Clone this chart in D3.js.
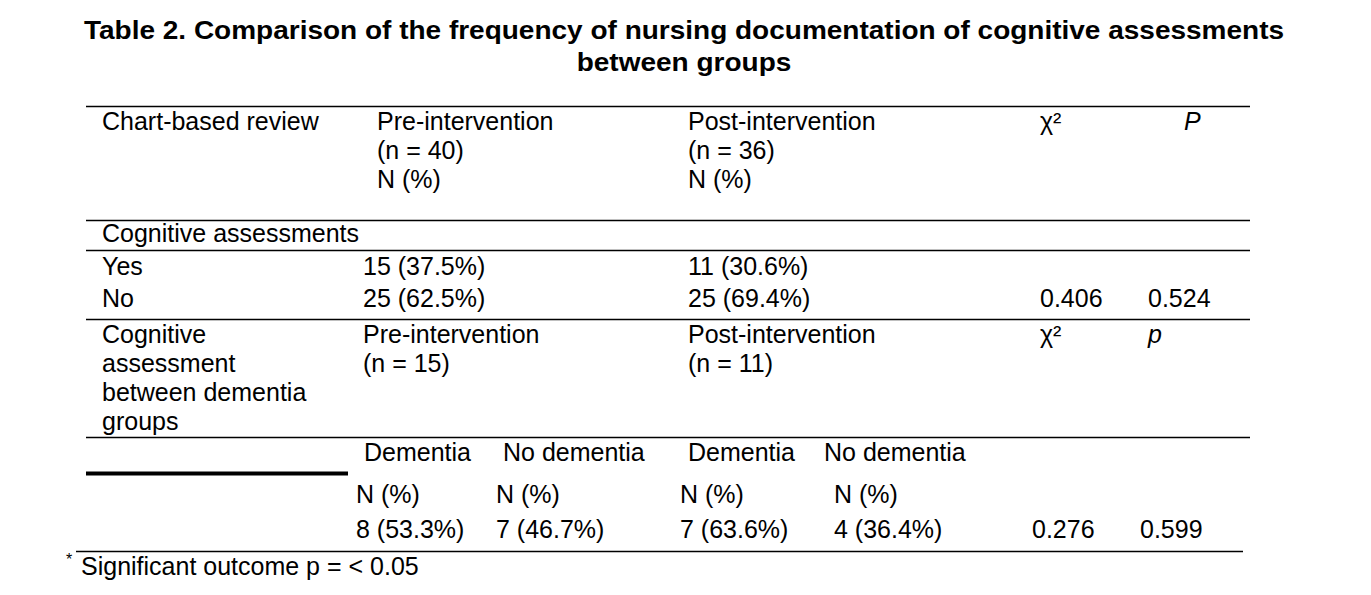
<html lang="en">
  <head>
    <meta charset="utf-8">
    <title>Table 2</title>
    <script src="https://d3js.org/d3.v7.min.js"></script>
    <style>
      body { margin: 0; background: #fff; }
      text { font-family: "Liberation Sans", Arial, sans-serif; font-size: 25px; fill: #000; }
      .title { font-weight: bold; font-size: 25px; }
      .rule { stroke: #000; stroke-width: 1.5; }
    </style>
  </head>
  <body>
    <script type="text/javascript">

    // table content
    var titleLines = ["Table 2. Comparison of the frequency of nursing documentation of cognitive assessments",
                      "between groups"];
    var groups = ["Pre-intervention", "Post-intervention"];
    var groupN = ["(n = 40)", "(n = 36)"];
    var answers = ["Yes", "No"];
    var preValues = ["15 (37.5%)", "25 (62.5%)"];
    var postValues = ["11 (30.6%)", "25 (69.4%)"];
    var chiSq1 = "0.406", pValue1 = "0.524";
    var subGroupN = ["(n = 15)", "(n = 11)"];
    var dementiaGroups = ["Dementia", "No dementia"];
    var preDementia = ["8 (53.3%)", "7 (46.7%)"];
    var postDementia = ["7 (63.6%)", "4 (36.4%)"];
    var chiSq2 = "0.276", pValue2 = "0.599";
    var footnote = "Significant outcome p = < 0.05";

    var w = 1371, h = 595;
    var step = 29;

    var svg = d3.select("body").append("svg")
      .attr("width", w)
      .attr("height", h);

    // title (reference type is a bit wider than the font, so stretch it)
    svg.append("g")
      .attr("transform", "translate(684,0) scale(1.12,1)")
      .selectAll("text.title")
      .data(titleLines)
      .enter()
      .append("text")
      .attr("class", "title")
      .attr("x", 0)
      .attr("y", function(d, i) { return 39 + i * 32; })
      .style("text-anchor", "middle")
      .text(function(d) { return d; });

    // horizontal rules
    var rules = [
      { y: 106.5, x1: 86, x2: 1250 },
      { y: 220.5, x1: 86, x2: 1250 },
      { y: 250.5, x1: 86, x2: 1250 },
      { y: 319.5, x1: 86, x2: 1250 },
      { y: 437.5, x1: 86, x2: 1250 },
      { y: 551.5, x1: 76, x2: 1243 }
    ];
    svg.selectAll("line.rule")
      .data(rules)
      .enter()
      .append("line")
      .attr("class", "rule")
      .attr("x1", function(d) { return d.x1; })
      .attr("x2", function(d) { return d.x2; })
      .attr("y1", function(d) { return d.y; })
      .attr("y2", function(d) { return d.y; });

    svg.append("line")
      .attr("x1", 86).attr("x2", 348)
      .attr("y1", 473.5).attr("y2", 473.5)
      .style("stroke", "#000")
      .style("stroke-width", 4);

    function put(x, y, s, italic) {
      var t = svg.append("text").attr("x", x).attr("y", y).text(s);
      if (italic) t.style("font-style", "italic");
      return t;
    }

    // header block
    put(102, 130, "Chart-based review");
    var colX = [377, 688];
    groups.forEach(function(g, i) {
      put(colX[i], 130, g);
      put(colX[i], 130 + step, groupN[i]);
      put(colX[i], 130 + 2 * step, "N (%)");
    });
    put(1040, 130, "χ²");
    put(1184, 130, "P", true);

    // cognitive assessments
    put(102, 242, "Cognitive assessments");
    var valX = [363, 688];
    answers.forEach(function(a, i) {
      var y = 275 + i * 32;
      put(102, y, a);
      put(valX[0], y, preValues[i]);
      put(valX[1], y, postValues[i]);
    });
    put(1040, 307, chiSq1);
    put(1148, 307, pValue1);

    // dementia block header
    ["Cognitive", "assessment", "between dementia", "groups"].forEach(function(s, i) {
      put(102, 343 + i * step, s);
    });
    groups.forEach(function(g, i) {
      put(valX[i], 343, g);
      put(valX[i], 343 + step, subGroupN[i]);
    });
    put(1040, 343, "χ²");
    put(1148, 343, "p", true);

    // dementia sub-columns
    var subHeadX = [[364, 503], [688, 824]];
    var subValX = [[356, 496], [680, 834]];
    var vals = [preDementia, postDementia];
    dementiaGroups.forEach(function(g, j) {
      [0, 1].forEach(function(i) {
        put(subHeadX[i][j], 461, g);
        put(subValX[i][j], 503, "N (%)");
        put(subValX[i][j], 538, vals[i][j]);
      });
    });
    put(1032, 538, chiSq2);
    put(1140, 538, pValue2);

    // footnote
    svg.append("text").attr("x", 66).attr("y", 565).style("font-size", "16px").text("*");
    put(81, 575, footnote);

    </script>
  </body>
</html>
